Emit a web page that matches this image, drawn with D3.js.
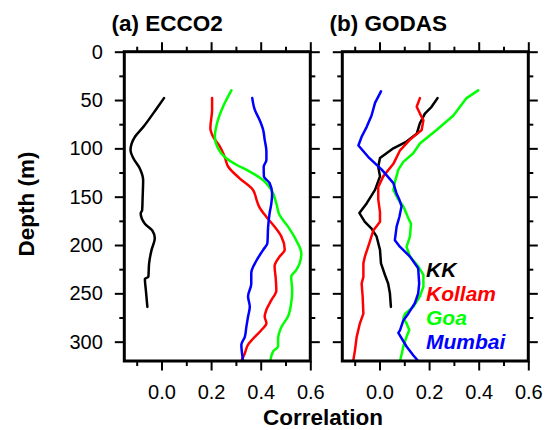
<!DOCTYPE html>
<html>
<head>
<meta charset="utf-8">
<script src="https://cdn.jsdelivr.net/npm/d3@7"></script>
<style>
  html, body { margin: 0; padding: 0; background: #fff; }
  svg { display: block; }
  text { font-family: "Liberation Sans", Arial, Helvetica, sans-serif; fill: #000; }
</style>
</head>
<body>
<svg id="chart" width="550" height="430"></svg>
<script>
// ---- Data: depth (m) and correlation for each station ----
// (a) ECCO2
const ecDepthKK = [48, 59, 78, 88, 102, 110, 121, 133, 150, 164, 167, 178, 185, 193, 205, 219, 233, 235, 247, 264];
const ecKK      = [0.01, -0.02, -0.074, -0.107, -0.125, -0.114, -0.087, -0.074, -0.076, -0.078, -0.084, -0.067, -0.037, -0.027, -0.04, -0.05, -0.053, -0.067, -0.063, -0.057];

const ecDepthKollam = [48, 60, 79, 88, 98, 109, 119, 131, 143, 153, 160, 171, 181, 191, 205, 212, 222, 233, 247, 257, 267, 274, 281, 288, 297, 303, 312, 320];
const ecKollam      = [0.204, 0.204, 0.197, 0.208, 0.235, 0.255, 0.269, 0.315, 0.369, 0.383, 0.393, 0.423, 0.456, 0.483, 0.497, 0.476, 0.456, 0.46, 0.463, 0.443, 0.423, 0.416, 0.423, 0.403, 0.369, 0.349, 0.336, 0.322];

const ecDepthGoa = [40, 57, 74, 88, 100, 109, 117, 124, 133, 143, 157, 169, 181, 195, 209, 219, 226, 233, 247, 260, 274, 285, 298, 305, 310, 320];
const ecGoa      = [0.282, 0.248, 0.224, 0.215, 0.228, 0.255, 0.302, 0.356, 0.41, 0.443, 0.463, 0.476, 0.51, 0.543, 0.564, 0.557, 0.543, 0.523, 0.527, 0.523, 0.51, 0.483, 0.47, 0.47, 0.45, 0.439];

const ecDepthMumbai = [48, 60, 71, 81, 91, 103, 112, 119, 129, 136, 147, 157, 167, 181, 198, 205, 216, 229, 240, 253, 264, 274, 285, 295, 303, 320];
const ecMumbai      = [0.366, 0.376, 0.396, 0.41, 0.416, 0.423, 0.423, 0.412, 0.413, 0.436, 0.446, 0.443, 0.436, 0.43, 0.427, 0.41, 0.383, 0.362, 0.362, 0.349, 0.356, 0.349, 0.342, 0.336, 0.322, 0.329];

// (b) GODAS
const gdDepthKK = [48, 57, 64, 74, 85, 93, 100, 110, 119, 129, 143, 157, 167, 176, 183, 191, 205, 219, 231, 240, 250, 264];
const gdKK      = [0.234, 0.21, 0.183, 0.163, 0.15, 0.109, 0.056, 0.002, -0.005, 0.002, -0.018, -0.052, -0.081, -0.059, -0.032, -0.012, 0.002, 0.006, 0.022, 0.035, 0.042, 0.046];

const gdDepthKollam = [48, 57, 64, 71, 81, 91, 102, 116, 129, 140, 153, 166, 176, 185, 198, 212, 219, 233, 240, 253, 271, 281, 295, 309, 320];
const gdKollam      = [0.163, 0.15, 0.163, 0.177, 0.17, 0.123, 0.083, 0.056, 0.015, -0.005, -0.005, 0.002, 0.002, -0.025, -0.041, -0.059, -0.065, -0.065, -0.072, -0.068, -0.065, -0.079, -0.092, -0.099, -0.106];

const gdDepthGoa = [40, 48, 66, 81, 95, 105, 114, 122, 135, 143, 153, 160, 172, 178, 191, 202, 212, 222, 231, 243, 253, 264, 271, 276, 281, 288, 295, 305, 320];
const gdGoa      = [0.398, 0.351, 0.298, 0.23, 0.163, 0.136, 0.096, 0.076, 0.062, 0.056, 0.076, 0.096, 0.116, 0.127, 0.123, 0.109, 0.123, 0.156, 0.177, 0.177, 0.163, 0.136, 0.103, 0.096, 0.109, 0.12, 0.109, 0.096, 0.083];

const gdDepthMumbai = [41, 53, 66, 78, 88, 97, 109, 122, 136, 147, 153, 160, 171, 181, 195, 202, 212, 224, 240, 250, 260, 271, 278, 288, 291, 305, 314, 320];
const gdMumbai      = [0.006, -0.018, -0.032, -0.052, -0.072, -0.085, -0.045, 0.009, 0.056, 0.069, 0.08, 0.089, 0.08, 0.069, 0.062, 0.083, 0.123, 0.156, 0.16, 0.156, 0.143, 0.116, 0.096, 0.083, 0.076, 0.109, 0.136, 0.156];

// Stations (legend order) and their colours
const stations = ["KK", "Kollam", "Goa", "Mumbai"];
const stationColors = ["#000000", "#ff0000", "#00ff00", "#0000ff"];

// Axis tick values
const corrTicks = [0.0, 0.2, 0.4, 0.6];
const corrMinorTicks = [-0.1, 0.1, 0.3, 0.5];
const depthTicks = [0, 50, 100, 150, 200, 250, 300];
const depthMinorTicks = [25, 75, 125, 175, 225, 275];

const panelTitles = ["(a) ECCO2", "(b) GODAS"];

// ---- Layout ----
const svg = d3.select("#chart");
const plotTop = 51.7, plotBottom = 361;
const panelW = 186;
const panelLefts = [124.3, 342.3];

const y = d3.scaleLinear().domain([0, 320]).range([plotTop, plotBottom]);

const panels = [
  {
    title: panelTitles[0],
    curve: d3.curveMonotoneY,
    series: [
      { depth: ecDepthKK, corr: ecKK },
      { depth: ecDepthKollam, corr: ecKollam },
      { depth: ecDepthGoa, corr: ecGoa },
      { depth: ecDepthMumbai, corr: ecMumbai }
    ]
  },
  {
    title: panelTitles[1],
    curve: d3.curveLinear,
    series: [
      { depth: gdDepthKK, corr: gdKK },
      { depth: gdDepthKollam, corr: gdKollam },
      { depth: gdDepthGoa, corr: gdGoa },
      { depth: gdDepthMumbai, corr: gdMumbai }
    ]
  }
];

const majorLen = 9.5, minorLen = 5;

panels.forEach((p, pi) => {
  const x0 = panelLefts[pi];
  const x = d3.scaleLinear().domain([-0.15, 0.6]).range([x0, x0 + panelW]);
  const g = svg.append("g");

  // clip so lines stay inside the frame
  const clipId = "clip" + pi;
  svg.append("clipPath").attr("id", clipId)
    .append("rect").attr("x", x0).attr("y", plotTop).attr("width", panelW).attr("height", plotBottom - plotTop);

  // series lines
  const line = d3.line()
    .x(d => x(d[1]))
    .y(d => y(d[0]))
    .curve(p.curve);
  const lg = g.append("g").attr("clip-path", `url(#${clipId})`);
  p.series.forEach((s, si) => {
    const pts = s.depth.map((dv, i) => [dv, s.corr[i]]);
    lg.append("path")
      .attr("d", line(pts))
      .attr("fill", "none")
      .attr("stroke", stationColors[si])
      .attr("stroke-width", 2.5)
      .attr("stroke-linejoin", "round")
      .attr("stroke-linecap", "round");
  });

  // axes (ticks outward on all four sides)
  const styleAxis = sel => {
    sel.select(".domain").remove();
    sel.selectAll(".tick line").attr("stroke", "#000").attr("stroke-width", 2);
    sel.selectAll(".tick text").attr("fill", "#000").style("font-size", "20px")
      .style("font-family", '"Liberation Sans", Arial, sans-serif');
  };

  const bottomAxis = d3.axisBottom(x).tickValues(corrTicks).tickFormat(d3.format(".1f"))
    .tickSize(majorLen).tickSizeOuter(0).tickPadding(14);
  g.append("g").attr("transform", `translate(0,${plotBottom})`).call(bottomAxis).call(styleAxis);
  g.append("g").attr("transform", `translate(0,${plotBottom})`)
    .call(d3.axisBottom(x).tickValues(corrMinorTicks).tickFormat("").tickSize(minorLen).tickSizeOuter(0)).call(styleAxis);

  g.append("g").attr("transform", `translate(0,${plotTop})`)
    .call(d3.axisTop(x).tickValues(corrTicks).tickFormat("").tickSize(majorLen).tickSizeOuter(0)).call(styleAxis);
  g.append("g").attr("transform", `translate(0,${plotTop})`)
    .call(d3.axisTop(x).tickValues(corrMinorTicks).tickFormat("").tickSize(minorLen).tickSizeOuter(0)).call(styleAxis);

  const leftAxis = d3.axisLeft(y).tickValues(depthTicks).tickSize(majorLen).tickSizeOuter(0).tickPadding(12);
  if (pi !== 0) leftAxis.tickFormat("");
  g.append("g").attr("transform", `translate(${x0},0)`).call(leftAxis).call(styleAxis);
  g.append("g").attr("transform", `translate(${x0},0)`)
    .call(d3.axisLeft(y).tickValues(depthMinorTicks).tickFormat("").tickSize(minorLen).tickSizeOuter(0)).call(styleAxis);

  g.append("g").attr("transform", `translate(${x0 + panelW},0)`)
    .call(d3.axisRight(y).tickValues(depthTicks).tickFormat("").tickSize(majorLen).tickSizeOuter(0)).call(styleAxis);
  g.append("g").attr("transform", `translate(${x0 + panelW},0)`)
    .call(d3.axisRight(y).tickValues(depthMinorTicks).tickFormat("").tickSize(minorLen).tickSizeOuter(0)).call(styleAxis);

  // frame
  g.append("rect")
    .attr("x", x0).attr("y", plotTop).attr("width", panelW).attr("height", plotBottom - plotTop)
    .attr("fill", "none").attr("stroke", "#000").attr("stroke-width", 3);

  // panel title
  svg.append("text")
    .attr("x", x0 - 12.8).attr("y", 31)
    .style("font-size", "22.5px").style("font-weight", "bold")
    .text(p.title);
});

// axis titles
svg.append("text")
  .attr("x", 323).attr("y", 425)
  .attr("text-anchor", "middle")
  .style("font-size", "22.5px").style("font-weight", "bold")
  .text("Correlation");

svg.append("text")
  .attr("transform", "translate(34,204) rotate(-90)")
  .attr("text-anchor", "middle")
  .style("font-size", "22.5px").style("font-weight", "bold")
  .text("Depth (m)");

// legend inside panel (b)
const legend = svg.append("g");
stations.forEach((name, i) => {
  legend.append("text")
    .attr("x", 426).attr("y", 277.3 + i * 24)
    .style("font-size", "21px").style("font-weight", "bold").style("font-style", "italic")
    .style("fill", stationColors[i])
    .text(name);
});
</script>
</body>
</html>
